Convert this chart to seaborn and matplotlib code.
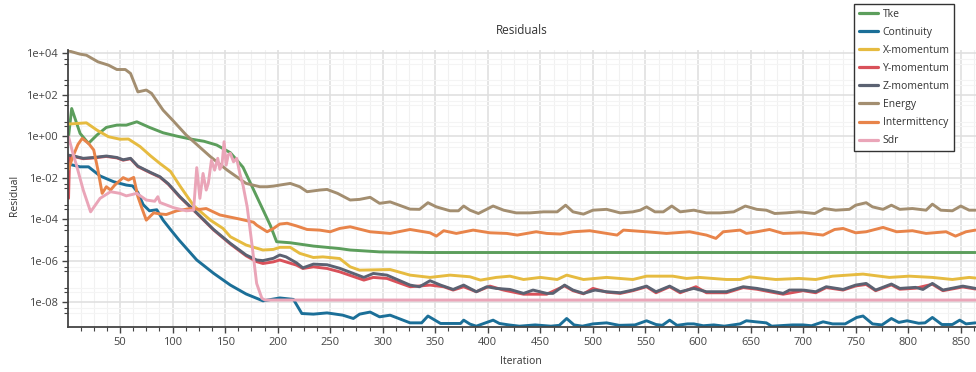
import numpy as np
import pandas as pd
import seaborn as sns
import matplotlib.pyplot as plt
from matplotlib.lines import Line2D
from matplotlib.ticker import FixedLocator, FuncFormatter, MultipleLocator, NullFormatter

sns.set_theme(style="white")
plt.rcParams['font.family'] = ['Open Sans', 'DejaVu Sans']

# Residual histories (iteration, log10 of residual) per equation
tke_it = [1, 4, 12, 20, 28, 37, 47, 56, 66, 78, 91, 104, 116, 130, 142, 155, 167, 180, 193, 199,
          212, 234, 259, 269, 297, 345, 864]
tke_log = [-0.03, 1.33, 0.13, -0.35, 0.05, 0.42, 0.53, 0.53, 0.69, 0.42, 0.16, 0.0, -0.13, -0.25,
           -0.43, -0.8, -1.5, -2.9, -4.3, -5.09, -5.14, -5.30, -5.42, -5.49, -5.58, -5.61, -5.61]

cont_it = [1, 12, 20, 31, 44, 56, 62, 67, 72, 78, 85, 91, 98, 106, 123, 139, 155, 170, 186, 202,
           215, 223, 234, 247, 262, 272, 278, 288, 297, 307, 326, 337, 343, 355, 374, 377, 383, 389,
           405, 411, 420, 430, 445, 460, 468, 475, 482, 490, 500, 513, 525, 540, 551, 560, 566, 573,
           580, 590, 596, 605, 615, 625, 640, 646, 655, 665, 670, 690, 700, 708, 719, 728, 740, 751,
           757, 766, 775, 784, 791, 799, 810, 816, 823, 832, 842, 849, 855, 864]
cont_log = [-1.35, -1.48, -1.48, -1.92, -2.2, -2.36, -2.4, -2.72, -3.3, -3.6, -3.55, -4.05, -4.5,
            -5.0, -5.97, -6.61, -7.18, -7.61, -7.94, -7.8, -7.87, -8.55, -8.58, -8.52, -8.63, -8.79,
            -8.58, -8.48, -8.71, -8.63, -9.0, -9.0, -8.67, -9.03, -9.03, -8.87, -9.06, -9.16, -8.87,
            -9.03, -9.1, -9.16, -9.1, -9.16, -9.12, -8.79, -9.1, -9.16, -9.05, -9.0, -9.12, -9.1,
            -8.9, -9.08, -9.12, -8.87, -9.12, -9.05, -9.05, -9.14, -9.1, -9.16, -9.05, -8.9, -8.95,
            -9.0, -9.16, -9.1, -9.1, -9.14, -8.95, -9.05, -9.05, -8.74, -8.67, -9.05, -9.1, -8.79,
            -8.98, -8.9, -9.02, -9.0, -8.74, -9.08, -9.08, -8.87, -9.05, -9.0]

xmom_it = [1, 18, 28, 39, 50, 58, 69, 79, 88, 98, 107, 120, 136, 148, 155, 170, 186, 196, 202, 212,
           221, 234, 243, 259, 269, 278, 307, 326, 345, 364, 383, 393, 408, 421, 434, 450, 466, 475,
           491, 513, 538, 551, 576, 589, 601, 627, 640, 649, 674, 696, 712, 728, 757, 782, 801, 823,
           842, 858, 864]
xmom_log = [0.58, 0.64, 0.29, -0.03, -0.15, -0.14, -0.5, -0.95, -1.32, -1.7, -2.4, -3.35, -4.05,
            -4.45, -4.85, -5.25, -5.49, -5.46, -5.36, -5.36, -5.65, -5.85, -5.82, -5.9, -6.3, -6.46,
            -6.43, -6.7, -6.81, -6.7, -6.78, -6.94, -6.81, -6.75, -6.91, -6.81, -6.91, -6.7, -6.91,
            -6.81, -6.91, -6.75, -6.75, -6.86, -6.81, -6.91, -6.91, -6.78, -6.91, -6.86, -6.91,
            -6.75, -6.65, -6.81, -6.75, -6.81, -6.91, -6.81, -6.84]

ymom_it = [1, 2, 6, 15, 25, 37, 47, 53, 60, 67, 79, 88, 96, 107, 123, 139, 155, 170, 180, 186, 196,
           202, 218, 224, 234, 247, 259, 282, 291, 304, 326, 345, 358, 367, 377, 389, 402, 415, 434,
           456, 473, 481, 491, 500, 513, 526, 538, 551, 560, 573, 583, 598, 608, 627, 643, 656, 668,
           681, 700, 712, 722, 738, 750, 760, 769, 784, 792, 807, 823, 833, 852, 864]
ymom_log = [-3.0, -0.95, -0.98, -1.09, -1.05, -0.98, -1.05, -1.16, -1.09, -1.47, -1.77, -1.98,
            -2.32, -2.94, -3.72, -4.52, -5.2, -5.77, -6.05, -6.14, -6.06, -5.97, -6.22, -6.38, -6.3,
            -6.38, -6.54, -6.94, -6.81, -6.86, -7.26, -7.18, -7.26, -7.42, -7.26, -7.5, -7.23,
            -7.42, -7.62, -7.62, -7.22, -7.45, -7.6, -7.34, -7.52, -7.58, -7.45, -7.26, -7.55,
            -7.26, -7.55, -7.26, -7.55, -7.55, -7.3, -7.38, -7.5, -7.62, -7.45, -7.55, -7.3, -7.42,
            -7.22, -7.15, -7.45, -7.17, -7.38, -7.33, -7.14, -7.45, -7.27, -7.37]

zmom_it = [1, 6, 15, 25, 37, 47, 53, 60, 67, 79, 88, 96, 107, 123, 139, 155, 170, 180, 186, 196,
           202, 208, 218, 224, 234, 247, 259, 282, 291, 304, 326, 335, 345, 355, 367, 377, 389, 399,
           408, 421, 434, 443, 456, 462, 473, 481, 491, 502, 513, 526, 538, 551, 560, 573, 583, 596,
           608, 627, 643, 656, 668, 681, 687, 700, 712, 722, 738, 750, 760, 769, 784, 792, 807, 814,
           823, 833, 852, 864]
zmom_log = [-0.92, -0.96, -1.07, -1.03, -0.96, -1.03, -1.14, -1.07, -1.45, -1.75, -1.96, -2.3,
            -2.92, -3.7, -4.5, -5.17, -5.73, -5.97, -6.0, -5.89, -5.73, -5.82, -6.11, -6.35, -6.17,
            -6.2, -6.37, -6.81, -6.62, -6.7, -7.18, -7.26, -6.97, -7.18, -7.39, -7.18, -7.5, -7.26,
            -7.34, -7.39, -7.58, -7.42, -7.58, -7.58, -7.18, -7.42, -7.58, -7.42, -7.5, -7.55,
            -7.42, -7.23, -7.5, -7.23, -7.5, -7.34, -7.5, -7.5, -7.26, -7.34, -7.45, -7.58, -7.42,
            -7.42, -7.5, -7.26, -7.39, -7.18, -7.1, -7.42, -7.13, -7.34, -7.29, -7.39, -7.1, -7.42,
            -7.23, -7.34]

energy_it = [1, 12, 18, 29, 39, 47, 55, 60, 67, 75, 80, 91, 100, 113, 136, 152, 170, 183, 190, 196,
             202, 212, 221, 228, 240, 247, 257, 269, 278, 288, 297, 307, 326, 335, 343, 351, 364,
             372, 377, 383, 391, 405, 415, 427, 440, 453, 466, 474, 481, 491, 500, 513, 526, 538,
             545, 551, 559, 567, 575, 583, 596, 608, 621, 634, 645, 656, 665, 673, 684, 696, 711,
             720, 731, 744, 750, 760, 766, 776, 784, 792, 804, 817, 823, 831, 842, 850, 858, 864]
energy_log = [4.11, 3.95, 3.90, 3.58, 3.42, 3.21, 3.21, 3.02, 2.13, 2.22, 2.06, 1.25, 0.77, 0.05,
              -0.99, -1.64, -2.28, -2.44, -2.44, -2.41, -2.36, -2.28, -2.44, -2.68, -2.60, -2.57,
              -2.76, -3.08, -3.05, -2.95, -3.24, -3.17, -3.52, -3.53, -3.21, -3.41, -3.60, -3.60,
              -3.37, -3.57, -3.73, -3.37, -3.57, -3.70, -3.70, -3.65, -3.65, -3.33, -3.65, -3.76,
              -3.57, -3.53, -3.70, -3.65, -3.57, -3.41, -3.65, -3.65, -3.37, -3.65, -3.57, -3.70,
              -3.70, -3.65, -3.37, -3.53, -3.57, -3.73, -3.70, -3.65, -3.73, -3.49, -3.57, -3.53,
              -3.33, -3.21, -3.41, -3.53, -3.33, -3.53, -3.49, -3.57, -3.28, -3.57, -3.60, -3.37,
              -3.57, -3.57]

inter_it = [1, 5, 10, 14, 20, 25, 29, 33, 37, 41, 45, 53, 58, 63, 67, 71, 75, 82, 88, 94, 104, 117,
            126, 132, 145, 164, 177, 180, 190, 196, 202, 209, 218, 228, 240, 250, 259, 269, 288,
            307, 326, 345, 351, 358, 370, 386, 402, 418, 428, 446, 456, 469, 481, 497, 523, 529,
            551, 570, 592, 608, 617, 624, 640, 646, 656, 668, 681, 700, 719, 730, 738, 750, 760,
            776, 789, 804, 817, 836, 845, 855, 864]
inter_log = [-1.6, -1.0, -0.4, -0.11, -0.35, -0.67, -1.64, -2.76, -2.44, -2.6, -2.36, -2.0, -2.12,
             -1.99, -2.92, -3.5, -4.05, -3.7, -3.75, -3.78, -3.6, -3.49, -3.53, -3.49, -3.8, -4.0,
             -4.15, -4.29, -4.61, -4.45, -4.24, -4.2, -4.33, -4.5, -4.53, -4.61, -4.45, -4.37,
             -4.61, -4.69, -4.5, -4.66, -4.82, -4.56, -4.69, -4.53, -4.66, -4.69, -4.77, -4.61,
             -4.69, -4.72, -4.61, -4.56, -4.77, -4.53, -4.61, -4.69, -4.61, -4.77, -4.93, -4.61,
             -4.53, -4.69, -4.61, -4.5, -4.69, -4.66, -4.77, -4.5, -4.45, -4.66, -4.61, -4.4,
             -4.61, -4.56, -4.69, -4.61, -4.82, -4.61, -4.53]

sdr_it = [1, 5, 9, 15, 22, 31, 41, 50, 56, 66, 75, 83, 86, 88, 101, 113, 120, 123, 126, 129, 132,
          134, 137, 140, 143, 145, 147, 149, 151, 153, 155, 158, 161, 164, 167, 171, 175, 180, 185,
          188, 864]
sdr_log = [-0.03, -0.8, -1.48, -2.6, -3.65, -3.0, -2.68, -2.76, -2.88, -2.76, -3.08, -3.14, -2.92,
           -3.2, -3.45, -3.6, -3.57, -1.52, -3.0, -1.8, -2.6, -2.28, -1.16, -1.64, -1.07, -1.6, -1.4,
           -0.27, -1.4, -0.9, -0.83, -1.24, -1.07, -1.8, -2.36, -3.41, -5.0, -7.1, -7.82, -7.9, -7.9]

series_names = ["Tke", "Continuity", "X-momentum", "Y-momentum", "Z-momentum", "Energy",
                "Intermittency", "Sdr"]
series_colors = ["#5c9e5c", "#1b6f98", "#e6bb40", "#d9515a", "#5b6272", "#a38e70", "#e8844a",
                 "#eaa5b8"]

history = [(tke_it, tke_log), (cont_it, cont_log), (xmom_it, xmom_log), (ymom_it, ymom_log),
           (zmom_it, zmom_log), (energy_it, energy_log), (inter_it, inter_log), (sdr_it, sdr_log)]

frames = []
for name, (its, logs) in zip(series_names, history):
    frames.append(pd.DataFrame({"Iteration": its,
                                "Residual": np.power(10.0, np.asarray(logs)),
                                "Series": name}))
df = pd.concat(frames, ignore_index=True)

W, H = 976, 372
fig = plt.figure(figsize=(W / 100, H / 100), dpi=100)
ax_left, ax_right, ax_top, ax_bottom = 68, 976, 50, 327
ax = fig.add_axes([ax_left / W, 1 - ax_bottom / H, (ax_right - ax_left) / W,
                   (ax_bottom - ax_top) / H])

sns.lineplot(data=df, x="Iteration", y="Residual", hue="Series", hue_order=series_names,
             palette=series_colors, estimator=None, linewidth=2.1, legend=False, ax=ax)
for ln in ax.get_lines():
    ln.set_solid_joinstyle("round")
    ln.set_solid_capstyle("round")

ax.set_yscale("log")
ax.set_ylim(10 ** -9.2, 10 ** 4.15)
ax.set_xlim(0.5, 864.5)

ax.yaxis.set_major_locator(FixedLocator([10.0 ** e for e in range(-8, 5, 2)]))
ax.yaxis.set_major_formatter(FuncFormatter(lambda v, p: f"{v:.0e}"))
ax.yaxis.set_minor_locator(FixedLocator([m * 10.0 ** e for e in range(-10, 5)
                                         for m in (3, 5)]))
ax.yaxis.set_minor_formatter(NullFormatter())
ax.xaxis.set_major_locator(MultipleLocator(50))
ax.xaxis.set_minor_locator(MultipleLocator(12.5))
ax.xaxis.set_minor_formatter(NullFormatter())

ax.grid(which="major", color="#e0e0e0", linewidth=1.2)
ax.grid(which="minor", axis="x", color="#f1f1f1", linewidth=0.8)
ax.grid(which="minor", axis="y", color="#f4f4f4", linewidth=0.8)
ax.set_axisbelow(True)

for side in ("top", "right"):
    ax.spines[side].set_visible(False)
for side in ("left", "bottom"):
    ax.spines[side].set_color("#444444")
    ax.spines[side].set_linewidth(1.3)

ax.tick_params(which="major", direction="out", length=4, width=1, color="#444444",
               labelsize=8, labelcolor="#444444", bottom=True, left=True)
ax.tick_params(which="minor", direction="out", length=3, width=0.8, color="#444444",
               bottom=True, left=True)
ax.set_xlabel("")
ax.set_ylabel("")

fig.text(522 / W, 1 - 31 / H, "Residuals", ha="center", va="center", fontsize=8.5,
         color="#333333")
fig.text(14 / W, 1 - 195 / H, "Residual", ha="center", va="center", rotation=90, fontsize=7.5,
         color="#333333")
fig.text(521 / W, 1 - 362 / H, "Iteration", ha="center", va="center", fontsize=7.5,
         color="#333333")

handles = [Line2D([0], [0], color=c, lw=2.3) for c in series_colors]
leg = fig.legend(handles, series_names, loc="upper left",
                 bbox_to_anchor=(854 / W, 1 - 4 / H), frameon=True, fancybox=False,
                 fontsize=7.5, handlelength=1.9, handletextpad=0.4, labelspacing=0.68,
                 borderpad=0.45, borderaxespad=0.0)
leg.get_frame().set_edgecolor("#333333")
leg.get_frame().set_linewidth(1.0)
leg.get_frame().set_facecolor("white")
leg.get_frame().set_alpha(1.0)
for t in leg.get_texts():
    t.set_color("#333333")

fig.savefig("out.png", dpi=100)
